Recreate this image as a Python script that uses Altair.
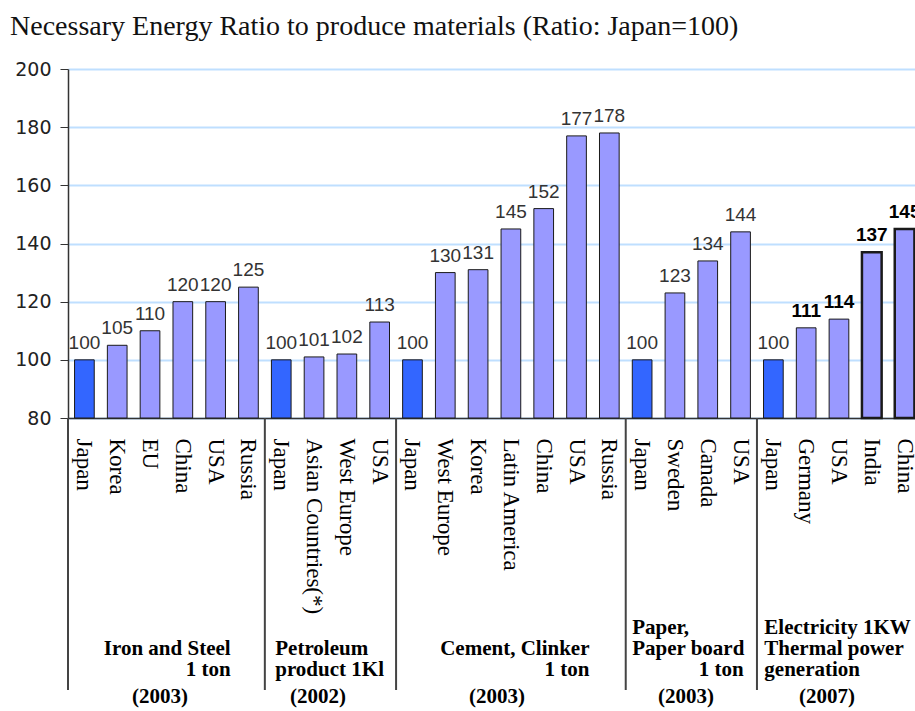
import json
import altair as alt
import pandas as pd

# Energy needed per unit of product, Japan = 100
names = ["Japan", "Korea", "EU", "China", "USA", "Russia",
         "Japan", "Asian Countries(*)", "West Europe", "USA",
         "Japan", "West Europe", "Korea", "Latin America", "China", "USA", "Russia",
         "Japan", "Sweden", "Canada", "USA",
         "Japan", "Germany", "USA", "India", "China"]
values = [100, 105, 110, 120, 120, 125,
          100, 101, 102, 113,
          100, 130, 131, 145, 152, 177, 178,
          100, 123, 134, 144,
          100, 111, 114, 137, 145]
groups = (["iron"] * 6 + ["petroleum"] * 4 + ["cement"] * 7
          + ["paper"] * 4 + ["power"] * 5)
group_starts = [0, 6, 10, 17, 21]
highlighted = [24, 25]  # India, China (power generation)

df = pd.DataFrame({
    "idx": list(range(len(names))),
    "name": names,
    "value": values,
    "group": groups,
})
df["japan"] = df["name"] == "Japan"
df["thick"] = df["idx"].isin(highlighted)
df["bold"] = (df["group"] == "power") & ~df["japan"]

W, H = 847, 349
FULL = 853  # band range runs slightly past the right edge

xscale = alt.Scale(type="band", domain=list(range(len(names))), range=[0, FULL],
                   paddingInner=0, paddingOuter=0)
yscale = alt.Scale(domain=[80, 200], zero=False, nice=False)

label_expr = json.dumps(names) + "[datum.value]"

base = alt.Chart(df)

bars = base.mark_bar(width=alt.RelativeBandSize(0.6), stroke="#1a1a1a").encode(
    x=alt.X("idx:O", scale=xscale, title=None,
            axis=alt.Axis(labelExpr=label_expr, labelAngle=90, labelAlign="left",
                          labelBaseline="middle", labelFont="Liberation Serif",
                          labelFontSize=23, labelColor="#000", labelPadding=20,
                          ticks=False, tickSize=0, domainColor="#333", domainWidth=1.5,
                          grid=False, labelOverlap=False, labelLimit=0)),
    y=alt.Y("value:Q", scale=yscale, title=None,
            axis=alt.Axis(values=[80, 100, 120, 140, 160, 180, 200], grid=True,
                          gridColor="#BFDFFF", gridWidth=2, domainColor="#333",
                          domainWidth=1.5, tickColor="#333", tickSize=8,
                          labelFont="DejaVu Sans", labelFontSize=19,
                          labelColor="#222", labelPadding=9)),
    y2=alt.datum(80),
    color=alt.condition("datum.japan", alt.value("#3366FF"), alt.value("#9999FF")),
    strokeWidth=alt.condition("datum.thick", alt.value(2.5), alt.value(1)),
)

value_normal = base.transform_filter("!datum.bold").mark_text(
    font="Liberation Sans", fontSize=19, color="#333", baseline="alphabetic", dy=-11
).encode(
    x=alt.X("idx:O", scale=xscale, title=None),
    y=alt.Y("value:Q", scale=yscale, title=None),
    text="value:Q",
)

value_bold = base.transform_filter("datum.bold").mark_text(
    font="Liberation Sans", fontSize=19, fontWeight="bold", color="#000",
    baseline="alphabetic", dy=-11
).encode(
    x=alt.X("idx:O", scale=xscale, title=None),
    y=alt.Y("value:Q", scale=yscale, title=None),
    text="value:Q",
)

# vertical dividers between product groups
dividers = alt.Chart(pd.DataFrame({"b": group_starts})).mark_rule(
    color="#444", strokeWidth=2
).encode(
    x=alt.X("b:O", scale=xscale, bandPosition=0, title=None),
    y=alt.value(H),
    y2=alt.value(H + 272),
)

# group captions: (text, anchor bar, align, dx, first row)
captions = [
    ("Iron and Steel\n1 ton", 4, "right", 15, 1),
    ("Petroleum\nproduct 1Kl", 6, "left", -6, 1),
    ("Cement, Clinker\n1 ton", 15, "right", 13, 1),
    ("Paper,\nPaper board", 17, "left", -10, 0),
    ("1 ton", 19, "right", 36, 2),
    ("Electricity 1KW\nThermal power\ngeneration", 21, "left", -9, 0),
]
years = [("(2003)", 2, 10), ("(2002)", 7, 4), ("(2003)", 13, -14),
         ("(2003)", 18, 11), ("(2007)", 23, -12)]

row_y = [H + 216, H + 237, H + 258]
layers = [bars, value_normal, value_bold, dividers]
for text, anchor, align, dx, row in captions:
    layers.append(
        alt.Chart(alt.Data(values=[{"a": anchor, "t": text}])).mark_text(
            font="Liberation Serif", fontSize=21, fontWeight="bold", color="#000",
            align=align, baseline="alphabetic", dx=dx, lineBreak="\n", lineHeight=21
        ).encode(x=alt.X("a:O", scale=xscale, title=None), y=alt.value(row_y[row]),
                 text="t:N")
    )
for text, anchor, dx in years:
    layers.append(
        alt.Chart(alt.Data(values=[{"a": anchor, "t": text}])).mark_text(
            font="Liberation Serif", fontSize=21, fontWeight="bold", color="#000",
            align="center", baseline="alphabetic", dx=dx
        ).encode(x=alt.X("a:O", scale=xscale, title=None), y=alt.value(H + 285),
                 text="t:N")
    )

chart = alt.layer(*layers).properties(
    width=W, height=H,
    autosize=alt.AutoSizeParams(type="none"),
    padding={"left": 68, "top": 69, "right": 0, "bottom": 293},
    background="white",
    title=alt.TitleParams(
        "Necessary Energy Ratio to produce materials (Ratio: Japan=100)",
        anchor="start", frame="group", font="Liberation Serif", fontSize=28,
        fontWeight="normal", color="#111", dx=-58, dy=37, offset=34,
        baseline="alphabetic",
    ),
).configure_view(strokeWidth=0)

chart.save("out.html", embed_options={"renderer": "svg", "actions": False})
